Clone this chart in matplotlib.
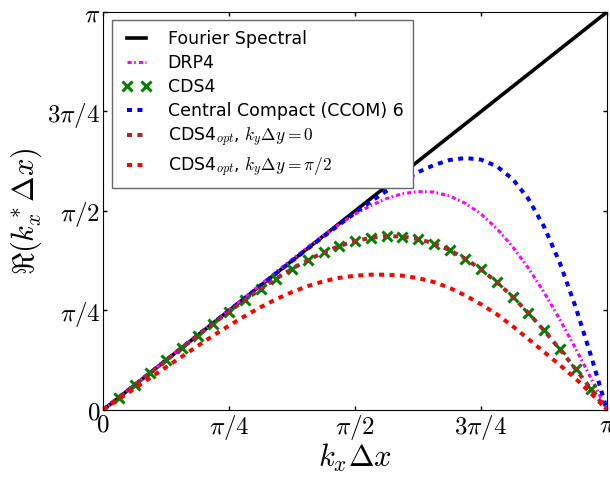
import numpy as np
import matplotlib
matplotlib.use('Agg')
import matplotlib.pyplot as plt

# values, on the grid kx = i*pi/32, i = 0..32
kx = np.linspace(0, np.pi, 33)
fourier = [0, np.pi]
drp4 = [0.000, 0.098, 0.196, 0.295, 0.393, 0.491, 0.590, 0.689, 0.789, 0.889,
        0.990, 1.090, 1.189, 1.286, 1.379, 1.466, 1.546, 1.614, 1.669, 1.707,
        1.724, 1.720, 1.689, 1.632, 1.547, 1.432, 1.290, 1.121, 0.929, 0.715,
        0.486, 0.246, 0.000]
cds4 = [0.000, 0.098, 0.196, 0.294, 0.392, 0.490, 0.587, 0.682, 0.776, 0.867,
        0.955, 1.037, 1.114, 1.183, 1.244, 1.294, 1.333, 1.359, 1.372, 1.369,
        1.350, 1.314, 1.263, 1.194, 1.109, 1.009, 0.895, 0.767, 0.628, 0.480,
        0.324, 0.163, 0.000]
ccom6 = [0.000, 0.098, 0.196, 0.295, 0.393, 0.491, 0.589, 0.687, 0.785, 0.883,
         0.981, 1.079, 1.176, 1.273, 1.369, 1.463, 1.556, 1.645, 1.729, 1.808,
         1.877, 1.933, 1.973, 1.989, 1.976, 1.924, 1.824, 1.668, 1.448, 1.162,
         0.815, 0.421, 0.000]
# CDS4_opt with ky*dy = 0 lies on top of CDS4 in the picture
cds4_opt_ky0 = list(cds4)
cds4_opt_kypi2 = [0.000, 0.085, 0.170, 0.254, 0.338, 0.421, 0.505, 0.587, 0.666, 0.741,
                  0.811, 0.875, 0.931, 0.978, 1.016, 1.043, 1.060, 1.068, 1.068, 1.060,
                  1.041, 1.010, 0.964, 0.904, 0.834, 0.756, 0.662, 0.560, 0.458, 0.355,
                  0.248, 0.130, 0.000]

tick_vals = [0, np.pi/4, np.pi/2, 3*np.pi/4, np.pi]
tick_labels = [r'$0$', r'$\pi/4$', r'$\pi/2$', r'$3\pi/4$', r'$\pi$']

plt.rcParams['mathtext.fontset'] = 'cm'
plt.rcParams['lines.scale_dashes'] = False

fig = plt.figure(figsize=(6.1, 4.78), dpi=100)
ax = fig.add_axes([0.1689, 0.1423, 0.8262, 0.8326])

dash = (0, (3.6, 3.9))
ax.plot(kx[[0, -1]], fourier, color='k', lw=2.6, label='Fourier Spectral')
ax.plot(kx, drp4, color='#ff00ff', lw=2.2, linestyle=(0, (3.0, 1.8, 1.2, 2.2)), label='DRP4')
ax.plot(kx[1:-1], cds4[1:-1], 'x', color='g', ms=7, mew=2.2, label='CDS4')
ax.plot(kx, ccom6, color='b', lw=2.9, linestyle=dash, label='Central Compact (CCOM) 6')
ax.plot(kx, cds4_opt_ky0, color='brown', lw=2.9, linestyle=dash,
        label=r'CDS4$_{opt}$, $k_y\Delta y=0$')
ax.plot(kx, cds4_opt_kypi2, color='r', lw=2.9, linestyle=dash,
        label=r'CDS4$_{opt}$, $k_y\Delta y=\pi/2$')

ax.set_xlim(0, np.pi)
ax.set_ylim(0, np.pi)
ax.set_xticks(tick_vals)
ax.set_xticklabels(tick_labels)
ax.set_yticks(tick_vals)
ax.set_yticklabels(tick_labels)
ax.tick_params(direction='in', top=True, right=True, length=3, width=1,
               labelsize=18, pad=2)
ax.set_xlabel(r'$k_x\Delta x$', fontsize=22, labelpad=0)
ax.set_ylabel(r'$\Re(k_x^*\Delta x)$', fontsize=22, labelpad=2)

leg = ax.legend(loc='upper left', bbox_to_anchor=(0.018, 0.979), borderaxespad=0,
                fontsize=12.5, numpoints=2, handlelength=1.7, handletextpad=0.95,
                labelspacing=0.35, borderpad=0.55, fancybox=False, framealpha=1)
leg.get_frame().set_edgecolor('0.4')
leg.get_frame().set_linewidth(1.0)

fig.savefig('out.png', dpi=100)
